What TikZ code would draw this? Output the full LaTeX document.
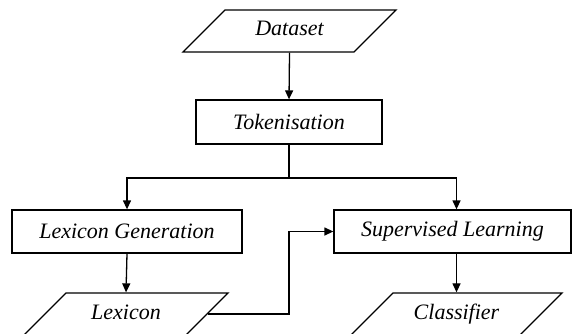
\documentclass[tikz,border=0pt]{standalone}
\usepackage{fontspec}
\setmainfont{Liberation Serif}
\usetikzlibrary{arrows.meta,shapes.geometric,calc}

\begin{document}
\begin{tikzpicture}[x=1pt, y=1pt, line width=1.3pt,
    >={Triangle[length=9pt, width=8pt]},
    every node/.style={font=\fontsize{22}{26}\selectfont\itshape},
    procbox/.style={draw, rectangle, minimum height=43pt, inner sep=0pt},
    iobox/.style={draw, trapezium, trapezium left angle=45, trapezium right angle=135,
        align=center, text height=15pt, text depth=5pt, inner ysep=11pt, inner xsep=0pt}]
    \useasboundingbox (0,0) rectangle (572,-334);

    % Nodes
    \node[iobox, text width=129pt] (data) at (289.5,-31) {Dataset};
    \node[procbox, minimum width=186pt, minimum height=44pt] (tok) at (289,-122) {Tokenisation};
    \node[procbox, minimum width=230pt] (lexgen) at (127,-231.5) {Lexicon Generation};
    \node[procbox, minimum width=237pt] (sup) at (452.5,-231.5) {Supervised Learning};
    \node[iobox, text width=120pt] (lex) at (126,-314) {Lexicon};
    \node[iobox, text width=127pt] (cls) at (456.5,-314) {Classifier};
    \coordinate (split) at (289,-178);

    % Arrows
    \draw[->] (data.south) -- (tok.north);
    \draw (tok.south) -- (split);
    \draw[->] (split) -| (lexgen.north);
    \draw[->] (split) -| (sup.north -| cls.north);
    \draw[->] (lexgen.south) -- (lex.north);
    \draw[->] (sup.south -| cls.north) -- (cls.north);
    \draw[->] (lex.east) -- ++(81,0) |- (sup.west);
\end{tikzpicture}
\end{document}
